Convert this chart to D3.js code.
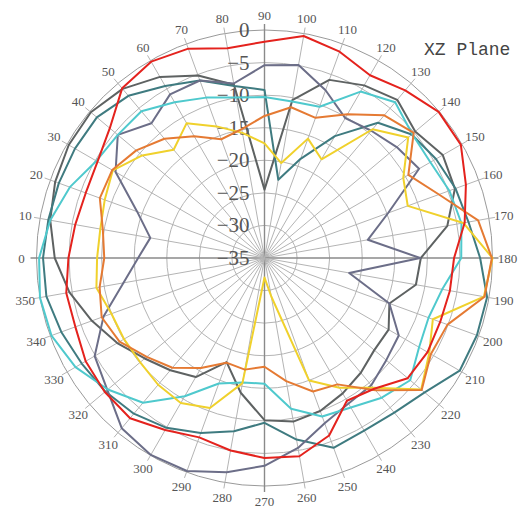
<!DOCTYPE html>
<html>
<head>
<meta charset="utf-8">
<script src="https://cdn.jsdelivr.net/npm/d3@7"></script>
<style>
    html, body { margin: 0; padding: 0; background: #fff; }
    svg { display: block; }
    .ang-label { font-family: "Liberation Serif", serif; font-size: 13px; fill: #555; }
    .r-label { font-family: "Liberation Serif", serif; font-size: 21px; fill: #555; }
    .title { font-family: "Liberation Mono", monospace; font-size: 18px; fill: #444; }
</style>
</head>
<body>
<svg id="chart" width="522" height="512"></svg>
<script>
(function () {
    "use strict";

    // angles in degrees, 0 on the left, 90 at top (clockwise)
    const angles = [0, 10, 20, 30, 40, 50, 60, 70, 80, 90, 100, 110, 120, 130, 140, 150, 160, 170,
                    180, 190, 200, 210, 220, 230, 240, 250, 260, 270, 280, 290, 300, 310, 320, 330, 340, 350];

    const radialTicks = [0, -5, -10, -15, -20, -25, -30, -35];

    // gain (dB) per angle, one array per curve
    const redSeries = [-4.9, -5.5, -5.8, -5.4, -4.0, -1.0, -0.2, -0.8, -2.3, -1.8, -0.4, -1.3, -2.6, -1.4, -0.1, -0.2, -2.1, -3.8,
                       -5.9, -6.1, -6.3, -6.1, -6.3, -8.8, -9.7, -6.0, -4.1, -4.3, -5.0, -5.7, -4.5, -2.9, -3.0, -3.3, -4.1, -4.1];
    const graySeries = [-2.8, -1.6, -0.8, -0.3, -0.2, -1.1, -2.9, -5.2, -8.0, -24.5, -10.4, -5.9, -4.4, -3.3, -4.8, -3.4, -3.9, -6.5,
                        -11.0, -11.4, -14.6, -13.0, -13.0, -12.0, -11.0, -10.0, -9.5, -10.1, -14.0, -18.0, -13.9, -12.5, -11.0, -8.9, -6.8, -4.6];
    const tealSeries = [-1.0, -1.3, -1.4, -1.4, -1.4, -2.5, -4.5, -6.0, -8.2, -9.2, -22.8, -18.8, -13.4, -7.9, -5.5, -4.6, -3.8, -3.2,
                        -1.9, -0.3, -0.3, -0.4, -2.9, -4.0, -4.4, -4.0, -6.7, -9.7, -8.0, -6.4, -4.9, -3.8, -3.1, -2.6, -1.8, -1.0];
    const cyanSeries = [-0.4, -1.6, -3.2, -5.2, -5.6, -5.6, -7.4, -8.8, -10.0, -10.3, -10.6, -10.3, -5.5, -3.8, -5.4, -5.6, -4.8, -4.3,
                        -4.8, -7.3, -8.2, -7.6, -5.8, -7.0, -8.5, -9.1, -11.5, -15.7, -15.6, -14.5, -10.5, -6.0, -3.6, -1.5, -0.2, 0.0];
    const orangeSeries = [-10.4, -9.8, -8.1, -8.0, -9.3, -11.1, -13.4, -15.6, -14.9, -13.2, -11.5, -12.1, -9.5, -6.4, -5.1, -9.5, -6.5, -1.7,
                          -0.1, -0.7, -5.1, -5.5, -3.5, -8.5, -12.6, -13.2, -15.8, -18.3, -17.6, -17.9, -15.5, -13.0, -11.4, -9.3, -8.4, -9.3];
    const yellowSeries = [-9.3, -9.4, -8.9, -8.1, -10.5, -13.3, -11.1, -13.5, -15.5, -17.4, -20.2, -15.5, -17.5, -9.2, -6.2, -10.4, -11.6, -4.0,
                          0.0, -0.8, -7.5, -5.8, -3.6, -9.0, -12.0, -15.0, -29.0, -32.0, -15.5, -10.5, -9.3, -9.6, -10.1, -10.1, -10.0, -8.8];
    const slateSeries = [-15.6, -17.2, -14.2, -8.6, -5.6, -8.0, -6.0, -6.0, -7.8, -5.4, -4.9, -7.6, -10.2, -9.5, -8.5, -7.6, -14.8, -18.9,
                         -11.1, -21.8, -14.6, -11.2, -10.6, -9.5, -9.2, -8.0, -5.4, -3.1, -1.6, -0.2, -0.1, -0.9, -3.5, -4.9, -8.7, -13.0];

    const series = [
        { name: "gray", values: graySeries, color: "#5e6262" },
        { name: "teal", values: tealSeries, color: "#3f7b80" },
        { name: "slate", values: slateSeries, color: "#6c6e88" },
        { name: "cyan", values: cyanSeries, color: "#4fc9cd" },
        { name: "yellow", values: yellowSeries, color: "#f0d12c" },
        { name: "orange", values: orangeSeries, color: "#e57a33" },
        { name: "red", values: redSeries, color: "#e4221d" }
    ];

    const cx = 264.5;
    const cy = 258;
    const R = 228;

    const svg = d3.select("#chart");
    svg.append("rect").attr("width", 522).attr("height", 512).attr("fill", "#fff");

    const g = svg.append("g").attr("transform", `translate(${cx},${cy})`);

    const r = d3.scaleLinear().domain([-35, 0]).range([0, R]);
    // label angle (0 left, clockwise) -> d3 radial angle (0 top, clockwise)
    const a = d3.scaleLinear().domain([0, 360]).range([-Math.PI / 2, 1.5 * Math.PI]);

    // rings
    g.selectAll(".ring")
        .data(radialTicks.filter((d) => d > -35))
        .enter()
        .append("circle")
        .attr("r", (d) => r(d))
        .attr("fill", "none")
        .attr("stroke", (d) => (d === 0 ? "#9a9a9a" : "#b4b4b4"))
        .attr("stroke-width", 1);

    // spokes
    g.selectAll(".spoke")
        .data(angles)
        .enter()
        .append("line")
        .attr("x1", 0).attr("y1", 0)
        .attr("x2", (d) => Math.sin(a(d)) * (R + 6))
        .attr("y2", (d) => -Math.cos(a(d)) * (R + 6))
        .attr("stroke", (d) => (d % 90 === 0 ? "#8a8a8a" : "#b4b4b4"))
        .attr("stroke-width", (d) => (d % 90 === 0 ? 1.4 : 1));

    // angle labels
    g.selectAll(".ang-label")
        .data(angles)
        .enter()
        .append("text")
        .attr("class", "ang-label")
        .attr("x", (d) => Math.sin(a(d)) * (R + 15))
        .attr("y", (d) => -Math.cos(a(d)) * (R + 15))
        .attr("text-anchor", "middle")
        .attr("dominant-baseline", "central")
        .text((d) => d);

    // radial labels along the vertical axis
    g.selectAll(".r-label")
        .data(radialTicks)
        .enter()
        .append("text")
        .attr("class", "r-label")
        .attr("x", -15)
        .attr("y", (d) => -r(d))
        .attr("text-anchor", "end")
        .attr("dominant-baseline", "central")
        .text((d) => (d < 0 ? "\u2212" + Math.abs(d) : d));

    const line = d3.lineRadial()
        .angle((d, i) => a(angles[i]))
        .radius((d) => r(d))
        .curve(d3.curveLinearClosed);

    g.selectAll(".curve")
        .data(series)
        .enter()
        .append("path")
        .attr("class", "curve")
        .attr("d", (d) => line(d.values))
        .attr("fill", "none")
        .attr("stroke", (d) => d.color)
        .attr("stroke-width", 2)
        .attr("stroke-linejoin", "round");

    svg.append("text")
        .attr("class", "title")
        .attr("x", 424)
        .attr("y", 55)
        .text("XZ Plane");
})();
</script>
</body>
</html>
